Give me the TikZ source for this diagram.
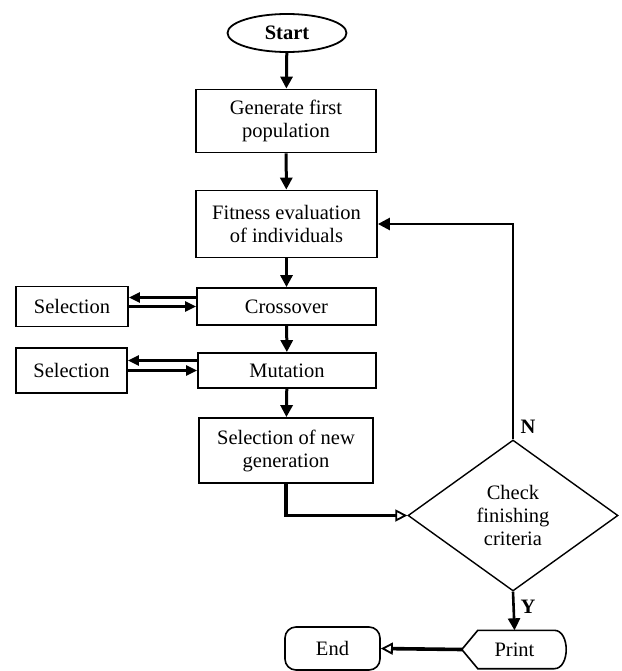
\documentclass[tikz,border=0pt]{standalone}
\usepackage{fontspec}
\setmainfont{Liberation Serif}
\usetikzlibrary{arrows.meta,calc,shapes.geometric}

\tikzset{
	stepbox/.style={draw, line width=1.8pt, align=center, inner sep=2pt, font=\fontsize{20.5}{23}\selectfont},
	flow/.style={line width=3pt, -{Triangle[length=12pt,width=12pt]}},
	side/.style={line width=2.4pt, -{Triangle[length=11pt,width=10pt]}},
	hollow/.style={line width=3.6pt, -{Triangle[open,length=12pt,width=12pt,line width=1.8pt]}},
	branchlabel/.style={font=\fontsize{20.5}{23}\selectfont\bfseries}
}

\begin{document}
\begin{tikzpicture}[x=1pt, y=-1pt]
		%%%%% START %%%%%
		\useasboundingbox (0, 0) rectangle (621, 671);
		
		\node[stepbox, ellipse, minimum width=119pt, minimum height=38pt, font=\fontsize{20.5}{23}\selectfont\bfseries] (start) at (287, 33) {Start};
		\node[stepbox, minimum width=180pt, minimum height=63pt] (gen) at (286, 121) {Generate first\\population};
		\node[stepbox, minimum width=181pt, minimum height=67pt] (fit) at (286.5, 224) {Fitness evaluation\\of individuals};
		\node[stepbox, minimum width=179pt, minimum height=37pt] (cross) at (286.5, 306.5) {Crossover};
		\node[stepbox, minimum width=178pt, minimum height=35pt] (mut) at (287, 370.5) {Mutation};
		\node[stepbox, minimum width=174pt, minimum height=65pt] (newgen) at (286, 450.5) {Selection of new\\generation};
		
		\node[stepbox, minimum width=112pt, minimum height=40pt] (sel1) at (72, 306.5) {Selection};
		\node[stepbox, minimum width=111pt, minimum height=45pt] (sel2) at (71.5, 370.5) {Selection};
		
		\node[stepbox, line width=1.4pt, diamond, aspect=1.39, inner sep=0pt, minimum width=210pt, minimum height=151pt] (check) at (513, 515.5) {Check\\finishing\\criteria};
		
		% print box, pointed left end and round right end
		\node[font=\fontsize{20.5}{23}\selectfont, minimum width=105pt, minimum height=38pt] (print) at (514.5, 649.5) {Print};
		\draw[line width=1.6pt] (print.west) -- ($(print.north west)+(16, 0)$) -- ($(print.north east)+(-13, 0)$)
			.. controls ($(print.north east)+(3, 0)$) and ($(print.south east)+(3, 0)$) .. ($(print.south east)+(-13, 0)$)
			-- ($(print.south west)+(16, 0)$) -- cycle;
		\node[stepbox, line width=1.6pt, rounded corners=11pt, minimum width=95pt, minimum height=43pt] (end) at (332.5, 648.5) {End};
		
		% main flow
		\draw[flow] (start) -- (gen);
		\draw[flow] (gen) -- (fit);
		\draw[flow] (fit) -- (cross);
		\draw[flow] (cross) -- (mut);
		\draw[flow] (mut) -- (newgen);
		\draw[hollow] (newgen.south) |- (check.west);
		\draw[flow, line width=2.6pt] (check.north) |- (fit.east);
		\draw[flow, line width=2.6pt] (check.south) -- (print.north);
		\draw[hollow] (print.west) -- (end.east);
		
		% side loops
		\draw[side] ([yshift=9pt]cross.west) -- ([yshift=9pt]sel1.east);
		\draw[side] (sel1.east) -- (cross.west);
		\draw[side] ([yshift=10pt]mut.west) -- ([yshift=10pt]sel2.east);
		\draw[side] (sel2.east) -- (mut.west);
		
		\node[branchlabel] (no) at (528, 427) {N};
		\node[branchlabel] (yes) at (528, 607) {Y};
		%%%%% END %%%%%
	\end{tikzpicture}
\end{document}
